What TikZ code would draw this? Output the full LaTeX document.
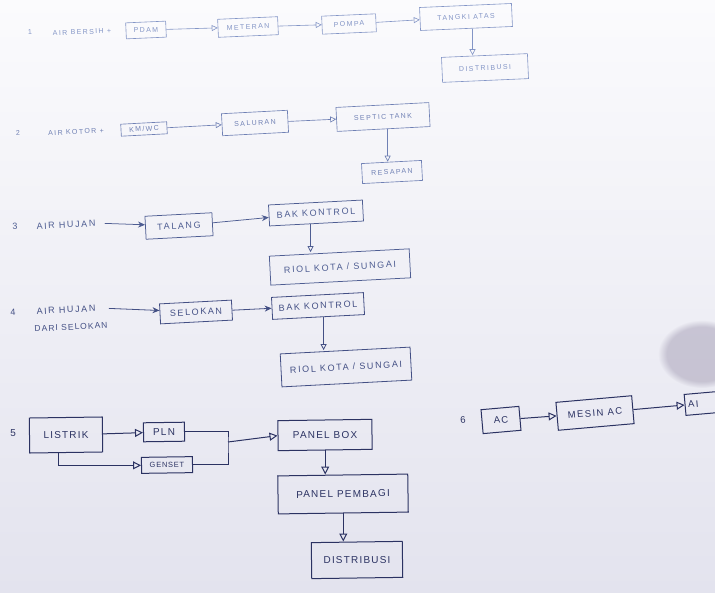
\documentclass[tikz,border=0pt]{standalone}
\usepackage{fontspec}
\setmainfont{Liberation Sans}
\usetikzlibrary{arrows.meta,fadings}

% paper and ink tones
\definecolor{paperTop}{HTML}{FBFBFD}
\definecolor{paperBot}{HTML}{E3E3EE}
\definecolor{inkA}{HTML}{8395C6}
\definecolor{inkB}{HTML}{6F80B4}
\definecolor{inkC}{HTML}{4E5D92}
\definecolor{inkD}{HTML}{434F84}
\definecolor{inkE}{HTML}{2B3262}
\definecolor{smudge}{HTML}{9A93AC}

% lettering for each group, widely spaced capitals
\newcommand\rowfontSmall{\fontsize{7}{8}\selectfont\addfontfeature{LetterSpace=20}}
\newcommand\rowfontMid{\fontsize{9}{10}\selectfont\addfontfeature{LetterSpace=18}}
\newcommand\rowfontBig{\fontsize{10}{11}\selectfont\addfontfeature{LetterSpace=12}}
\newcommand\rowfontAC{\fontsize{9.5}{10}\selectfont\addfontfeature{LetterSpace=15}}

\tikzset{
  bx/.style={draw, inner sep=1pt, align=center},
  txt/.style={inner sep=1pt},
  arr/.style={-{Triangle[open,length=6pt,width=6pt]}},
  arrbig/.style={-{Triangle[open,length=8pt,width=8pt]}},
  sarr/.style={-{Stealth[length=7pt,width=6pt]}},
}

\begin{document}
\begin{tikzpicture}[x=1pt,y=-1pt]
  % page
  \useasboundingbox (0,0) rectangle (715,593);
  \clip (0,0) rectangle (715,593);
  \shade[top color=paperTop, bottom color=paperBot] (0,0) rectangle (715,593);
  \fill[smudge, opacity=0.45, path fading=circle with fuzzy edge 20 percent]
    (702,354) ellipse [x radius=44, y radius=34];

  % 1: clean water
  \begin{scope}[draw=inkA, text=inkA, line width=0.6pt,
      every node/.append style={rotate=2.5, font=\rowfontSmall}]
    \node[txt] (n1) at (30,32) {1};
    \node[txt] (src1) at (82,32) {AIR BERSIH +};
    \node[bx, minimum width=40, minimum height=16] (pdam) at (146,30) {PDAM};
    \node[bx, minimum width=60, minimum height=18] (meteran) at (248,27) {METERAN};
    \node[bx, minimum width=54, minimum height=18] (pompa) at (349,24) {POMPA};
    \node[bx, minimum width=92, minimum height=23] (tangki) at (466,17) {TANGKI ATAS};
    \node[bx, minimum width=86, minimum height=25] (dist1) at (485,68) {DISTRIBUSI};
    \draw[arr] (pdam) -- (meteran);
    \draw[arr] (meteran) -- (pompa);
    \draw[arr] (pompa) -- (tangki);
    \draw[arr] ([xshift=6]tangki.south) -- ([xshift=6]tangki.south |- dist1.north);
  \end{scope}

  % 2: waste water
  \begin{scope}[draw=inkB, text=inkB, line width=0.65pt,
      every node/.append style={rotate=3, font=\rowfontSmall}]
    \node[txt] (n2) at (18,133) {2};
    \node[txt] (src2) at (76,132) {AIR KOTOR +};
    \node[bx, minimum width=46, minimum height=12] (kmwc) at (144,129) {KM/WC};
    \node[bx, minimum width=66, minimum height=22] (saluran) at (255,123) {SALURAN};
    \node[bx, minimum width=93, minimum height=24] (septic) at (383,117) {SEPTIC TANK};
    \node[bx, minimum width=60, minimum height=20] (resapan) at (392,172) {RESAPAN};
    \draw[arr] (kmwc) -- (saluran);
    \draw[arr] (saluran) -- (septic);
    \draw[arr] ([xshift=4]septic.south) -- ([xshift=4]septic.south |- resapan.north);
  \end{scope}

  % 3: rain water from the roof
  \begin{scope}[draw=inkC, text=inkC, line width=0.75pt,
      every node/.append style={rotate=3, font=\rowfontMid}]
    \node[txt] (n3) at (15,226) {3};
    \node[txt] (src3) at (66,225) {AIR HUJAN};
    \node[bx, minimum width=67, minimum height=23] (talang) at (179,226) {TALANG};
    \node[bx, minimum width=94, minimum height=21] (bak3) at (316,213) {BAK KONTROL};
    \node[bx, minimum width=140, minimum height=29] (riol3) at (340,267) {RIOL KOTA / SUNGAI};
    \draw[sarr] ([xshift=8]src3.east) -- (talang);
    \draw[sarr] (talang) -- (bak3);
    \draw[arr] ([xshift=-6]bak3.south) -- ([xshift=-6]bak3.south |- riol3.north);
  \end{scope}

  % 4: rain water from the gutter
  \begin{scope}[draw=inkD, text=inkD, line width=0.8pt,
      every node/.append style={rotate=3, font=\rowfontMid}]
    \node[txt] (n4) at (13,312) {4};
    \node[txt] (src4) at (66,310) {AIR HUJAN};
    \node[txt, font=\fontsize{8.5}{9}\selectfont\addfontfeature{LetterSpace=12}] (src4b) at (71,327) {DARI SELOKAN};
    \node[bx, minimum width=72, minimum height=20] (selokan) at (196,312) {SELOKAN};
    \node[bx, minimum width=92, minimum height=22] (bak4) at (318,306) {BAK KONTROL};
    \node[bx, minimum width=130, minimum height=33] (riol4) at (346,367) {RIOL KOTA / SUNGAI};
    \draw[sarr] ([xshift=12]src4.east) -- (selokan);
    \draw[sarr] (selokan) -- (bak4);
    \draw[arr] ([xshift=5]bak4.south) -- ([xshift=5]bak4.south |- riol4.north);
  \end{scope}

  % 5: electricity
  \begin{scope}[draw=inkE, text=inkE, line width=1pt,
      every node/.append style={rotate=0.8, font=\rowfontBig}]
    \node[txt] (n5) at (13,433) {5};
    \node[bx, minimum width=73, minimum height=35] (listrik) at (66,435) {LISTRIK};
    \node[bx, minimum width=41, minimum height=19] (pln) at (164,432) {PLN};
    \node[bx, minimum width=51, minimum height=16, font=\fontsize{7.5}{8}\selectfont\addfontfeature{LetterSpace=10}] (genset) at (167,465) {GENSET};
    \node[bx, minimum width=94, minimum height=30] (panelbox) at (325,435) {PANEL BOX};
    \node[bx, minimum width=130, minimum height=38] (pembagi) at (343,494) {PANEL PEMBAGI};
    \node[bx, minimum width=91, minimum height=36] (dist5) at (357,560) {DISTRIBUSI};
    \coordinate (br) at (228,442);
    \draw[arrbig] (listrik) -- (pln);
    \draw[arrbig] ([xshift=-8]listrik.south) |- (genset.west);
    \draw (pln.east) -| (br) |- (genset.east);
    \draw[arrbig] (br) -- (panelbox.west);
    \draw[arrbig] (panelbox.south) -- (panelbox.south |- pembagi.north);
    \draw[arrbig] (pembagi.south) -- (pembagi.south |- dist5.north);
  \end{scope}

  % 6: air conditioning
  \begin{scope}[draw=inkE, text=inkE, line width=1pt,
      every node/.append style={rotate=5, font=\rowfontAC}]
    \node[txt] (n6) at (463,420) {6};
    \node[bx, minimum width=38, minimum height=24] (ac) at (501,420) {AC};
    \node[bx, minimum width=76, minimum height=28] (mesin) at (595,413) {MESIN AC};
    \node[bx, minimum width=44, minimum height=21, text width=38, align=left] (ai) at (707,403) {AI};
    \draw[arrbig] (ac) -- (mesin);
    \draw[arrbig] (mesin) -- (ai);
  \end{scope}
\end{tikzpicture}
\end{document}
